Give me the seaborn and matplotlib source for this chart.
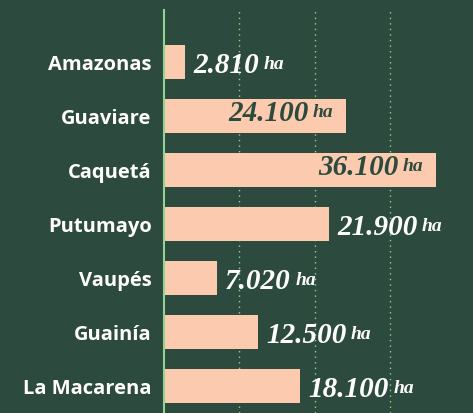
import pandas as pd
import matplotlib.pyplot as plt
import seaborn as sns

# Deforestation area by department (ha)
departments = ['Amazonas', 'Guaviare', 'Caquetá', 'Putumayo', 'Vaupés', 'Guainía', 'La Macarena']
hectares = [2810, 24100, 36100, 21900, 7020, 12500, 18100]
value_labels = ['2.810', '24.100', '36.100', '21.900', '7.020', '12.500', '18.100']

df = pd.DataFrame({'department': departments, 'ha': hectares})

BG = '#2d4a3e'
BAR = '#fccbaf'
LINE = '#8fd48f'

sns.set_style('white')
plt.rcParams['font.family'] = ['Open Sans', 'DejaVu Sans']

fig = plt.figure(figsize=(4.73, 4.13), dpi=100, facecolor=BG)
ax = fig.add_axes([164 / 473, 0, 309 / 473, 403 / 413])
ax.set_facecolor(BG)

sns.barplot(data=df, x='ha', y='department', color=BAR, width=0.63,
            saturation=1, orient='h', edgecolor='none', linewidth=0, ax=ax)

ax.set_xlim(0, 41000)
ax.set_ylim(6.5, -0.963)
ax.set_xticks([10000, 20000, 30000])
ax.xaxis.grid(True, color=LINE, linestyle=(0, (1, 3)), linewidth=1)
ax.set_axisbelow(True)
ax.tick_params(axis='x', length=0, labelbottom=False)
ax.tick_params(axis='y', length=0, pad=9, labelcolor='white', labelsize=14.5)
for lab in ax.get_yticklabels():
    lab.set_fontweight('bold')
ax.set_xlabel('')
ax.set_ylabel('')
for s in ['top', 'right', 'bottom']:
    ax.spines[s].set_visible(False)
ax.spines['left'].set_color(LINE)
ax.spines['left'].set_linewidth(1.5)

num_font = dict(family='Liberation Serif', style='italic', weight='bold', size=21)
ha_font = dict(family='Liberation Serif', style='italic', weight='bold', size=14)

for i, (v, lab) in enumerate(zip(hectares, value_labels)):
    if v > 23000:
        # label inside the bar, right aligned, dark text
        t_ha = ax.annotate('ha', xy=(v, i), xytext=(-9, 4), textcoords='offset points',
                           ha='right', va='center_baseline', color=BG, **ha_font)
        ax.annotate(lab, xy=(0, 0), xycoords=t_ha, xytext=(-3, -4),
                    textcoords='offset points', ha='right', va='bottom',
                    color=BG, **num_font)
    else:
        t_num = ax.annotate(lab, xy=(v, i), xytext=(6, 0), textcoords='offset points',
                            ha='left', va='center_baseline', color='white', **num_font)
        ax.annotate('ha', xy=(1, 0), xycoords=t_num, xytext=(3, 4),
                    textcoords='offset points', ha='left', va='bottom',
                    color='white', **ha_font)

fig.savefig('out.png', dpi=100, facecolor=BG)
